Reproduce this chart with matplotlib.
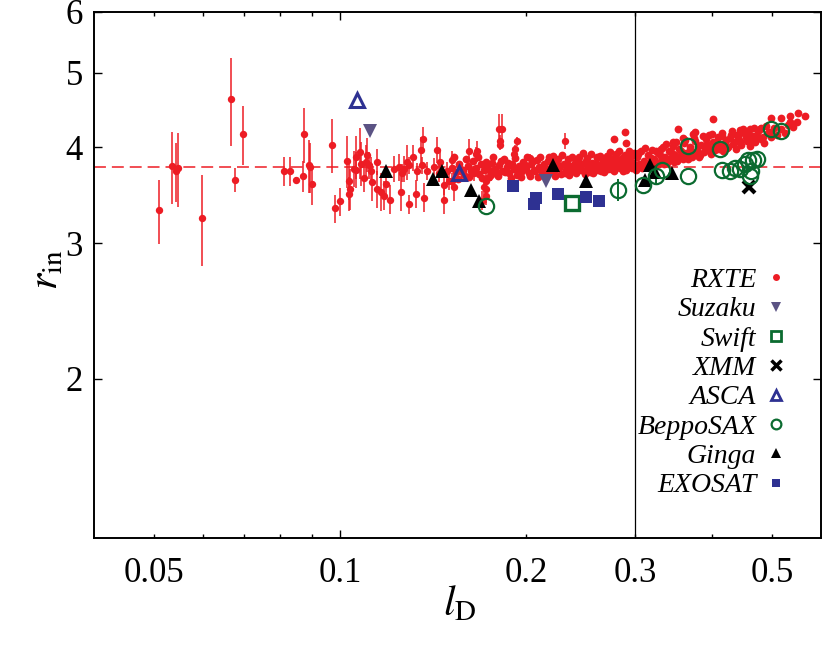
import numpy as np
import matplotlib
matplotlib.use("Agg")
import matplotlib.pyplot as plt
from matplotlib.lines import Line2D
from matplotlib.ticker import FixedLocator, NullLocator, FuncFormatter

RED = "#ED1C24"; SUZ = "#5B5384"; GREEN = "#0B6B30"; NAVY = "#2E3192"

plt.rcParams.update({
    "font.family": "Liberation Serif", "mathtext.fontset": "stix",
    "axes.linewidth": 1.4,
})

# RXTE points with visible error bars: (l_D, r_in, sigma)
RXTE_ERR = [
    (0.0509, 3.31, 0.32), (0.0534, 3.78, 0.41), (0.0542, 3.72, 0.33),
    (0.0547, 3.76, 0.42), (0.0597, 3.24, 0.44), (0.0666, 4.62, 0.60),
    (0.0676, 3.63, 0.13), (0.0697, 4.16, 0.37), (0.0813, 3.72, 0.16),
    (0.0830, 3.72, 0.16), (0.0849, 3.63, 0.03), (0.0872, 3.67, 0.17),
    (0.0875, 4.16, 0.34), (0.0892, 3.79, 0.30), (0.0895, 3.77, 0.28),
    (0.0901, 3.58, 0.22), (0.0970, 4.03, 0.33), (0.0980, 3.33, 0.14),
    (0.1001, 3.40, 0.14), (0.1025, 3.84, 0.30), (0.1036, 3.62, 0.20),
    (0.1038, 3.53, 0.22), (0.1034, 3.48, 0.18), (0.1077, 3.94, 0.30),
    (0.1061, 3.74, 0.20), (0.1081, 3.81, 0.25), (0.1094, 3.65, 0.15),
    (0.1054, 3.75, 0.20), (0.1061, 3.89, 0.25), (0.1101, 3.83, 0.20),
    (0.1107, 3.91, 0.20), (0.1114, 3.79, 0.15), (0.1121, 3.73, 0.15),
    (0.1128, 3.60, 0.20), (0.1149, 3.83, 0.15), (0.1149, 3.53, 0.20),
    (0.1163, 3.50, 0.20), (0.1177, 3.46, 0.15), (0.1185, 3.58, 0.10),
    (0.1207, 3.42, 0.15), (0.1221, 3.75, 0.15), (0.1245, 3.77, 0.15),
    (0.1253, 3.50, 0.20), (0.1260, 3.70, 0.10), (0.1268, 3.75, 0.15),
    (0.1284, 3.83, 0.20), (0.1293, 3.37, 0.10), (0.1293, 3.79, 0.10),
    (0.1312, 3.88, 0.15), (0.1325, 3.48, 0.15), (0.1333, 3.72, 0.10),
    (0.1350, 3.97, 0.15), (0.1358, 3.79, 0.10), (0.1364, 4.10, 0.15),
    (0.1367, 3.44, 0.15), (0.1385, 3.73, 0.10), (0.1419, 3.77, 0.10),
    (0.1436, 3.97, 0.15), (0.1445, 3.70, 0.10), (0.1454, 3.83, 0.15),
    (0.1471, 3.42, 0.15), (0.1471, 3.57, 0.10), (0.1489, 3.73, 0.10),
    (0.1500, 3.62, 0.10), (0.1518, 3.85, 0.10), (0.1528, 3.55, 0.15),
    (0.1518, 3.62, 0.08), (0.1616, 3.95, 0.15), (0.1667, 3.95, 0.12),
    (0.1657, 3.92, 0.08), (0.1806, 4.22, 0.20), (0.1831, 4.22, 0.20),
    (0.1818, 4.07, 0.08), (0.1818, 4.03, 0.06), (0.1934, 4.07, 0.05),
    (0.1922, 3.98, 0.05), (0.1910, 3.92, 0.05), (0.2030, 3.87, 0.05),
    (0.2314, 4.08, 0.10), (0.1721, 3.53, 0.15), (0.1721, 3.62, 0.10),
    (0.1709, 3.55, 0.08), (0.1721, 3.46, 0.10), (0.1700, 3.41, 0.10),
    (0.1646, 3.70, 0.08), (0.1752, 3.68, 0.06),
]

# RXTE dense band (error bars smaller than the marker)
BAND_L = [
    0.152, 0.154, 0.156, 0.158, 0.159, 0.161, 0.163, 0.164, 0.166, 0.168,
    0.169, 0.171, 0.173, 0.174, 0.176, 0.178, 0.179, 0.181, 0.183, 0.184,
    0.186, 0.188, 0.190, 0.191, 0.193, 0.195, 0.197, 0.198, 0.200, 0.202,
    0.204, 0.206, 0.208, 0.210, 0.212, 0.214, 0.216, 0.218, 0.220, 0.222,
    0.224, 0.226, 0.228, 0.230, 0.232, 0.234, 0.236, 0.238, 0.240, 0.242,
    0.244, 0.246, 0.248, 0.250, 0.252, 0.254, 0.256, 0.258, 0.260, 0.262,
    0.264, 0.266, 0.268, 0.270, 0.272, 0.274, 0.276, 0.278, 0.280, 0.282,
    0.284, 0.286, 0.288, 0.290, 0.292, 0.294, 0.296, 0.298, 0.300,
    0.153, 0.155, 0.157, 0.160, 0.162, 0.165, 0.167, 0.170, 0.172, 0.175,
    0.177, 0.180, 0.182, 0.185, 0.187, 0.189, 0.192, 0.194, 0.196, 0.199,
    0.201, 0.203, 0.205, 0.207, 0.209, 0.211, 0.213, 0.215, 0.217, 0.219,
    0.221, 0.223, 0.225, 0.227, 0.229, 0.231, 0.233, 0.235, 0.237, 0.239,
    0.241, 0.243, 0.245, 0.247, 0.249, 0.251, 0.253, 0.255, 0.257, 0.259,
    0.261, 0.263, 0.265, 0.267, 0.269, 0.271, 0.273, 0.275, 0.277, 0.279,
    0.281, 0.283, 0.285, 0.287, 0.289, 0.291, 0.293, 0.295, 0.297, 0.299,
    0.302, 0.305, 0.307, 0.310, 0.312, 0.315, 0.317, 0.320, 0.322, 0.325,
    0.327, 0.330, 0.333, 0.335, 0.338, 0.340, 0.343, 0.346, 0.348, 0.351,
    0.354, 0.357, 0.360, 0.363, 0.366, 0.369, 0.372, 0.375, 0.378, 0.381,
    0.384, 0.388, 0.391, 0.395, 0.398, 0.402, 0.405, 0.409, 0.413, 0.417,
    0.421, 0.425, 0.429, 0.433, 0.437, 0.441, 0.446, 0.450, 0.455, 0.460,
    0.465, 0.470, 0.475, 0.480, 0.486, 0.492, 0.498, 0.504, 0.510, 0.517,
    0.524, 0.531, 0.540, 0.548,
    0.301, 0.304, 0.308, 0.311, 0.314, 0.318, 0.321, 0.324, 0.328, 0.331,
    0.334, 0.337, 0.341, 0.344, 0.347, 0.350, 0.353, 0.356, 0.359, 0.362,
    0.365, 0.368, 0.371, 0.374, 0.377, 0.380, 0.383, 0.386, 0.390, 0.393,
    0.397, 0.400, 0.404, 0.407, 0.411, 0.415, 0.419, 0.423, 0.427, 0.431,
    0.435, 0.439, 0.444, 0.448, 0.453, 0.458, 0.463, 0.468, 0.473, 0.478,
    0.484, 0.489, 0.495,
    0.5657, 0.5506, 0.5339, 0.5339, 0.5166, 0.4974, 0.4793, 0.4599, 0.4435,
    0.4489, 0.4196, 0.4143, 0.4019, 0.3956, 0.3750, 0.3516, 0.2889, 0.2775,
    0.3727, 0.3591, 0.3460, 0.3303, 0.3039, 0.2907, 0.2718, 0.2607,
]
BAND_R = [
    3.76, 3.71, 3.80, 3.74, 3.68, 3.78, 3.72, 3.84, 3.76, 3.69,
    3.80, 3.74, 3.78, 3.66, 3.82, 3.75, 3.71, 3.79, 3.73, 3.86,
    3.77, 3.70, 3.81, 3.75, 3.68, 3.78, 3.73, 3.83, 3.76, 3.70,
    3.80, 3.74, 3.85, 3.77, 3.71, 3.81, 3.75, 3.88, 3.79, 3.72,
    3.83, 3.76, 3.69, 3.80, 3.74, 3.86, 3.78, 3.72, 3.82, 3.76,
    3.89, 3.80, 3.73, 3.84, 3.77, 3.71, 3.82, 3.76, 3.87, 3.79,
    3.73, 3.84, 3.78, 3.90, 3.81, 3.75, 3.85, 3.79, 3.92, 3.83,
    3.76, 3.87, 3.80, 3.74, 3.85, 3.79, 3.90, 3.82, 3.77,
    3.88, 3.64, 3.73, 3.86, 3.66, 3.74, 3.88, 3.65, 3.83, 3.72,
    3.89, 3.67, 3.84, 3.71, 3.82, 3.65, 3.87, 3.74, 3.66, 3.79,
    3.88, 3.67, 3.84, 3.72, 3.66, 3.89, 3.74, 3.68, 3.84, 3.73,
    3.90, 3.67, 3.86, 3.78, 3.91, 3.70, 3.80, 3.68, 3.88, 3.75,
    3.70, 3.85, 3.74, 3.93, 3.69, 3.87, 3.79, 3.92, 3.70, 3.81,
    3.74, 3.90, 3.77, 3.71, 3.86, 3.75, 3.94, 3.79, 3.72, 3.88,
    3.77, 3.95, 3.80, 3.73, 3.91, 3.78, 3.95, 3.84, 3.76, 3.93,
    3.88, 3.80, 3.95, 3.84, 3.78, 3.91, 3.82, 3.97, 3.86, 3.80,
    3.93, 3.84, 4.00, 3.88, 3.82, 3.95, 3.87, 4.02, 3.91, 3.84,
    3.98, 3.89, 4.05, 3.93, 3.86, 4.00, 3.91, 4.07, 3.96, 3.89,
    4.03, 3.94, 4.10, 3.99, 3.92, 4.06, 3.97, 4.12, 4.01, 3.95,
    4.09, 4.00, 4.15, 4.04, 3.98, 4.12, 4.03, 4.17, 4.07, 4.01,
    4.14, 4.06, 4.20, 4.10, 4.05, 4.17, 4.12, 4.24, 4.15, 4.22,
    4.18, 4.28, 4.25, 4.31,
    3.74, 3.92, 3.76, 3.99, 3.79, 3.87, 3.77, 3.95, 3.80, 3.90,
    3.81, 4.04, 3.85, 3.93, 3.83, 4.06, 3.88, 3.95, 3.86, 4.09,
    3.90, 3.97, 3.88, 4.11, 3.93, 4.01, 3.91, 4.14, 3.97, 4.04,
    3.95, 4.16, 4.00, 4.07, 3.98, 4.18, 4.04, 3.99, 4.11, 4.20,
    4.06, 4.15, 4.08, 4.22, 4.12, 4.19, 4.09, 4.24, 4.14, 4.22,
    4.13, 4.26, 4.19,
    4.39, 4.43, 4.39, 4.32, 4.37, 4.37, 4.24, 4.23, 4.21,
    4.19, 4.05, 4.14, 4.35, 4.15, 4.19, 4.22, 4.19, 4.10,
    4.16, 4.11, 4.06, 3.98, 3.93, 4.05, 3.90, 3.88,
]

SUZAKU = [(0.1119, 4.20), (0.2154, 3.61)]
SWIFT = [(0.2372, 3.38)]
XMM = [(0.4582, 3.55)]
ASCA = [(0.1067, 4.61), (0.1557, 3.70)]
BEPPOSAX = [  # (l_D, r_in, sigma)
    (0.1721, 3.35, 0.0), (0.2821, 3.52, 0.12), (0.3088, 3.57, 0.0),
    (0.3244, 3.67, 0.10), (0.3322, 3.74, 0.0), (0.3659, 4.02, 0.0),
    (0.3659, 3.67, 0.0), (0.4120, 3.98, 0.0), (0.4150, 3.74, 0.0),
    (0.4280, 3.72, 0.0), (0.4350, 3.76, 0.0), (0.4435, 3.75, 0.0),
    (0.4516, 3.80, 0.0), (0.4572, 3.85, 0.0), (0.4659, 3.85, 0.0),
    (0.4735, 3.86, 0.0), (0.4601, 3.67, 0.0), (0.4630, 3.73, 0.0),
    (0.4974, 4.22, 0.0), (0.5171, 4.20, 0.0),
]
GINGA = [(0.1185, 3.72), (0.1413, 3.64), (0.1463, 3.73), (0.1627, 3.52),
         (0.1681, 3.40), (0.2213, 3.79), (0.2497, 3.62), (0.3118, 3.63),
         (0.3179, 3.79), (0.3232, 3.71), (0.3450, 3.70)]
EXOSAT = [(0.1903, 3.56), (0.2073, 3.44), (0.2057, 3.37), (0.2250, 3.48),
          (0.2501, 3.45), (0.2629, 3.41)]

R_MEAN = 3.77
L_CUT = 0.3
XTICKS = [0.05, 0.1, 0.2, 0.3, 0.5]
YTICKS = [2, 3, 4, 5, 6]
LABELS = ["RXTE", "Suzaku", "Swift", "XMM", "ASCA", "BeppoSAX", "Ginga", "EXOSAT"]

fig = plt.figure(figsize=(8.3, 6.5), dpi=100)
ax = fig.add_axes([94 / 830, 1 - 538 / 650, 727 / 830, 526 / 650])
ax.set_xscale("log"); ax.set_yscale("log")
ax.set_xlim(0.04, 0.6); ax.set_ylim(1.24, 6)

ax.axhline(R_MEAN, color=RED, lw=1.1, ls=(0, (7.8, 3.9)), zorder=1)

l, r, e = np.array(RXTE_ERR).T
ax.errorbar(l, r, yerr=e, fmt="o", color=RED, ms=5.3, mew=0,
            elinewidth=1.1, capsize=0, zorder=2)
ax.plot(BAND_L, BAND_R, "o", color=RED, ms=5.6, mew=0, zorder=2)

ax.axvline(L_CUT, color="black", lw=0.9, zorder=2.5)


def pts(data):
    a = np.array(data)
    return a[:, 0], a[:, 1]


x, y = pts(SUZAKU)
ax.plot(x, y, "v", color=SUZ, ms=10, mew=0, zorder=3)
x, y = pts(SWIFT)
ax.plot(x, y, "s", mfc="none", mec=GREEN, ms=10, mew=2.4, zorder=3)
x, y = pts(XMM)
ax.plot(x, y, "x", color="black", ms=9, mew=3, zorder=3)
x, y = pts(ASCA)
ax.plot(x, y, "^", mfc="none", mec=NAVY, ms=10, mew=2.2, zorder=3)
b = np.array(BEPPOSAX)
ax.errorbar(b[:, 0], b[:, 1], yerr=b[:, 2], fmt="o", mfc="none", mec=GREEN,
            ecolor=GREEN, ms=11, mew=1.6, elinewidth=1.4, capsize=0, zorder=3)
x, y = pts(GINGA)
ax.plot(x, y, "^", color="black", ms=10, mew=0, zorder=3)
x, y = pts(EXOSAT)
ax.plot(x, y, "s", color=NAVY, ms=8, mew=0, zorder=3)

# ticks: only 0.1 gets the long tick, the rest are short
ax.xaxis.set_major_locator(FixedLocator([0.1]))
ax.xaxis.set_minor_locator(FixedLocator([0.05, 0.06, 0.07, 0.08, 0.09,
                                         0.2, 0.3, 0.4, 0.5]))
fmt = FuncFormatter(lambda v, p: f"{v:g}" if any(abs(v - t) < 1e-9 for t in XTICKS) else "")
ax.xaxis.set_major_formatter(fmt)
ax.xaxis.set_minor_formatter(fmt)
ax.yaxis.set_major_locator(FixedLocator(YTICKS))
ax.yaxis.set_minor_locator(NullLocator())
ax.yaxis.set_major_formatter(FuncFormatter(lambda v, p: f"{v:g}"))
ax.tick_params(which="both", direction="in", top=True, right=True,
               labelsize=25, width=1.0)
ax.tick_params(axis="x", which="major", length=6, pad=14)
ax.tick_params(axis="x", which="minor", length=3, pad=14)
ax.tick_params(axis="y", which="major", length=6, pad=8)

ax.set_xlabel(r"$l_{\rm D}$", fontsize=30)
ax.set_ylabel(r"$r_{\rm in}$", fontsize=30)
ax.xaxis.set_label_coords(0.503, -0.088)
ax.yaxis.set_label_coords(-0.038, 0.51)

handles = [
    Line2D([], [], ls="none", marker="o", color=RED, ms=5, mew=0),
    Line2D([], [], ls="none", marker="v", color=SUZ, ms=7.5, mew=0),
    Line2D([], [], ls="none", marker="s", mfc="none", mec=GREEN, ms=7, mew=2),
    Line2D([], [], ls="none", marker="x", color="black", ms=6.5, mew=2.5),
    Line2D([], [], ls="none", marker="^", mfc="none", mec=NAVY, ms=7.5, mew=2),
    Line2D([], [], ls="none", marker="o", mfc="none", mec=GREEN, ms=7, mew=1.6),
    Line2D([], [], ls="none", marker="^", color="black", ms=7.5, mew=0),
    Line2D([], [], ls="none", marker="s", color=NAVY, ms=5.5, mew=0),
]
ax.legend(handles, LABELS, loc="upper right", bbox_to_anchor=(0.953, 0.514),
          markerfirst=False, frameon=False, handlelength=0.8,
          handletextpad=0.3, labelspacing=0.14, borderpad=0, borderaxespad=0,
          prop={"family": "Liberation Serif", "style": "italic", "size": 20})

fig.savefig("out.png", dpi=100, facecolor="white")
